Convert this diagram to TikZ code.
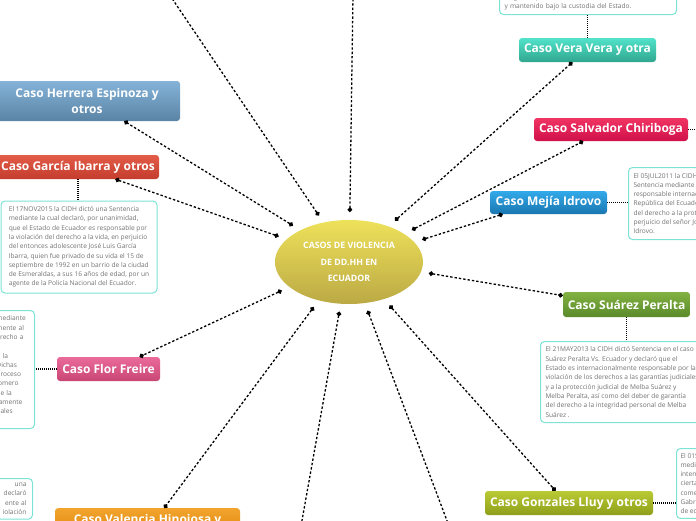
\documentclass[tikz,border=0pt]{standalone}
\usepackage{fontspec}
\setmainfont{Open Sans}
\usetikzlibrary{arrows.meta,positioning,calc,shapes.geometric}

\definecolor{hubtop}{HTML}{EEE15A}
\definecolor{hubbot}{HTML}{BBA944}
\definecolor{herreratop}{HTML}{84B2D8}
\definecolor{herrerabot}{HTML}{5A84A4}
\definecolor{garciatop}{HTML}{E25C48}
\definecolor{garciabot}{HTML}{C43C2C}
\definecolor{flortop}{HTML}{EA6A9A}
\definecolor{florbot}{HTML}{C84674}
\definecolor{valenciatop}{HTML}{F2A42C}
\definecolor{valenciabot}{HTML}{E08A12}
\definecolor{gonzalestop}{HTML}{BACA34}
\definecolor{gonzalesbot}{HTML}{8E9E1A}
\definecolor{suareztop}{HTML}{82B242}
\definecolor{suarezbot}{HTML}{5A8A2A}
\definecolor{mejiatop}{HTML}{32AAEA}
\definecolor{mejiabot}{HTML}{1A76B0}
\definecolor{salvadortop}{HTML}{F03462}
\definecolor{salvadorbot}{HTML}{D0104A}
\definecolor{veratop}{HTML}{52E2CA}
\definecolor{verabot}{HTML}{30A68E}
\definecolor{notaline}{HTML}{7DE3D6}
\definecolor{notatext}{HTML}{737373}

\begin{document}
\begin{tikzpicture}[
x=1pt, y=-1pt,
every node/.style={font=\small},
hub/.style={
ellipse,
top color=hubtop,
bottom color=hubbot,
minimum width=148pt,
minimum height=84pt,
outer sep=8pt,
text=white,
align=center,
font=\fontsize{8.8}{16.5}\selectfont\bfseries
},
caso/.style={
rounded corners=3pt,
text=white,
align=center,
inner sep=2pt,
font=\fontsize{12}{16.5}\selectfont\bfseries
},
nota/.style={
draw=notaline,
line width=1pt,
rounded corners=4pt,
fill=white,
text=notatext,
align=left,
inner xsep=5pt,
inner ysep=4.5pt,
font=\fontsize{6.6}{9.3}\selectfont
},
link/.style={{Circle[length=4.6pt]}-{Circle[length=4.6pt]}, line width=1.3pt, dash pattern=on 2.4pt off 2pt},
stub/.style={link, {Circle[length=4.6pt]}-},
tie/.style={line width=1.3pt, dash pattern=on 1pt off 1pt}
]
\useasboundingbox (0,0) rectangle (696,520);
\clip (0,0) rectangle (696,520);

% Central topic
\node[hub] (hub) at (349,262) {CASOS DE VIOLENCIA\\DE DD.HH EN\\ECUADOR};

% Cases
\node[caso, top color=herreratop, bottom color=herrerabot, minimum width=186pt, minimum height=40pt] (herrera) at (87,101) {Caso Herrera Espinoza y\\otros};
\node[caso, top color=garciatop, bottom color=garciabot, minimum width=162pt, minimum height=24pt] (garcia) at (78,167) {Caso García Ibarra y otros};
\node[caso, top color=flortop, bottom color=florbot, minimum width=103pt, minimum height=24pt] (flor) at (108.5,369) {Caso Flor Freire};
\node[caso, top color=valenciatop, bottom color=valenciabot, anchor=north, minimum width=185pt, inner ysep=6pt] (valencia) at (147.5,508) {Caso Valencia Hinojosa y};
\node[caso, top color=gonzalestop, bottom color=gonzalesbot, minimum width=168pt, minimum height=24pt] (gonzales) at (569,503) {Caso Gonzales Lluy y otros};
\node[caso, top color=suareztop, bottom color=suarezbot, minimum width=127pt, minimum height=25pt] (suarez) at (626.5,304.5) {Caso Suárez Peralta};
\node[caso, top color=mejiatop, bottom color=mejiabot, minimum width=117pt, minimum height=23pt] (mejia) at (548.5,202.5) {Caso Mejía Idrovo};
\node[caso, top color=salvadortop, bottom color=salvadorbot, minimum width=154pt, minimum height=23pt] (salvador) at (611,129.5) {Caso Salvador Chiriboga};
\node[caso, top color=veratop, bottom color=verabot, minimum width=137pt, minimum height=24pt] (vera) at (587.5,50) {Caso Vera Vera y otra};

% Notes
\node[nota, minimum width=156pt, minimum height=92pt] (garcianota) at (79,247) {El 17NOV2015 la CIDH dictó una Sentencia\\mediante la cual declaró, por unanimidad,\\que el Estado de Ecuador es responsable por\\la violación del derecho a la vida, en perjuicio\\del entonces adolescente José Luis García\\Ibarra, quien fue privado de su vida el 15 de\\septiembre de 1992 en un barrio de la ciudad\\de Esmeraldas, a sus 16 años de edad, por un\\agente de la Policía Nacional del Ecuador.};
\node[nota, anchor=north east, text width=36pt, inner xsep=2pt, minimum height=118pt] (flornota) at (35,310) {mediante\\mente al\\erecho a\\\mbox{}\\o la\\Dichas\\proceso\\lomero\\de la\\tamente\\uales\\\mbox{}};
\node[nota, anchor=north east, align=right, text width=24pt, inner xsep=6pt] (valencianota) at (33,478) {una\\declaró\\ente al\\iolación};
\node[nota, anchor=north west, inner xsep=4pt] (gonzalesnota) at (676,448) {El 01SEP2015 la CIDH dictó una Sentencia\\mediante la cual declaró responsable\\internacionalmente al Estado de Ecuador por\\ciertas violaciones de derechos humanos\\cometidas en perjuicio de Talía\\Gabriela Gonzales Lluy, a sus tres años\\de edad.};
\node[nota, anchor=north west, minimum height=81pt] (suareznota) at (540,341) {El 21MAY2013 la CIDH dictó Sentencia en el caso\\Suárez Peralta Vs. Ecuador y declaró que el\\Estado es internacionalmente responsable por la\\violación de los derechos a las garantías judiciales\\y a la protección judicial de Melba Suárez y\\Melba Peralta, así como del deber de garantía\\del derecho a la integridad personal de Melba\\Suárez .};
\node[nota, anchor=north west, minimum height=72pt] (mejianota) at (628,167) {El 05JUL2011 la CIDH dictó una\\Sentencia mediante la cual declaró\\responsable internacionalmente a la\\República del Ecuador por la violación\\del derecho a la protección judicial en\\perjuicio del señor José Alfredo Mejía\\Idrovo.};
\node[nota, anchor=south west, text width=167pt] (veranota) at (499,15) {luego de que fue detenido con una herida de bala\\y mantenido bajo la custodia del Estado.};

% Loose ends
\coordinate (topa) at (169,-6);
\coordinate (topb) at (353,-6);
\coordinate (bota) at (301,526);
\coordinate (botb) at (449,526);
\coordinate (salvadorend) at (700,129.5);

% Links
\draw[stub] (hub.123) -- (topa);
\draw[stub] (hub.89) -- (topb);
\draw[link] (hub.147) -- ($(herrera.south west)!0.70!(herrera.south east)$);
\draw[link] (hub.160) -- ($(garcia.south west)!0.73!(garcia.south east)$);
\draw[link] (hub.203) -- ($(flor.north west)!0.80!(flor.north east)$);
\draw[link] (hub.232) -- ($(valencia.north west)!0.59!(valencia.north east)$);
\draw[stub] (hub.259) -- (bota);
\draw[stub] (hub.291) -- (botb);
\draw[link] (hub.313) -- ($(gonzales.north west)!0.42!(gonzales.north east)$);
\draw[link] (hub.352) -- ($(suarez.north west)!0.15!(suarez.south west)$);
\draw[link] (hub.17) -- ($(mejia.south west)!0.11!(mejia.south east)$);
\draw[link] (hub.27) -- ($(salvador.south west)!0.32!(salvador.south east)$);
\draw[link] (hub.42) -- ($(vera.south west)!0.39!(vera.south east)$);

% Ties to notes
\draw[tie] (garcia.south) -- (garcia.south |- garcianota.north);
\draw[tie] (flor.west) -- (flor.west -| flornota.east);
\draw[tie] (vera.north) -- (vera.north |- veranota.south);
\draw[tie] (salvador.east) -- (salvadorend);
\draw[tie] (mejia.east) -- (mejia.east -| mejianota.west);
\draw[tie] (suarez.south) -- (suarez.south |- suareznota.north);
\draw[tie] (gonzales.east) -- (gonzales.east -| gonzalesnota.west);

\end{tikzpicture}
\end{document}
